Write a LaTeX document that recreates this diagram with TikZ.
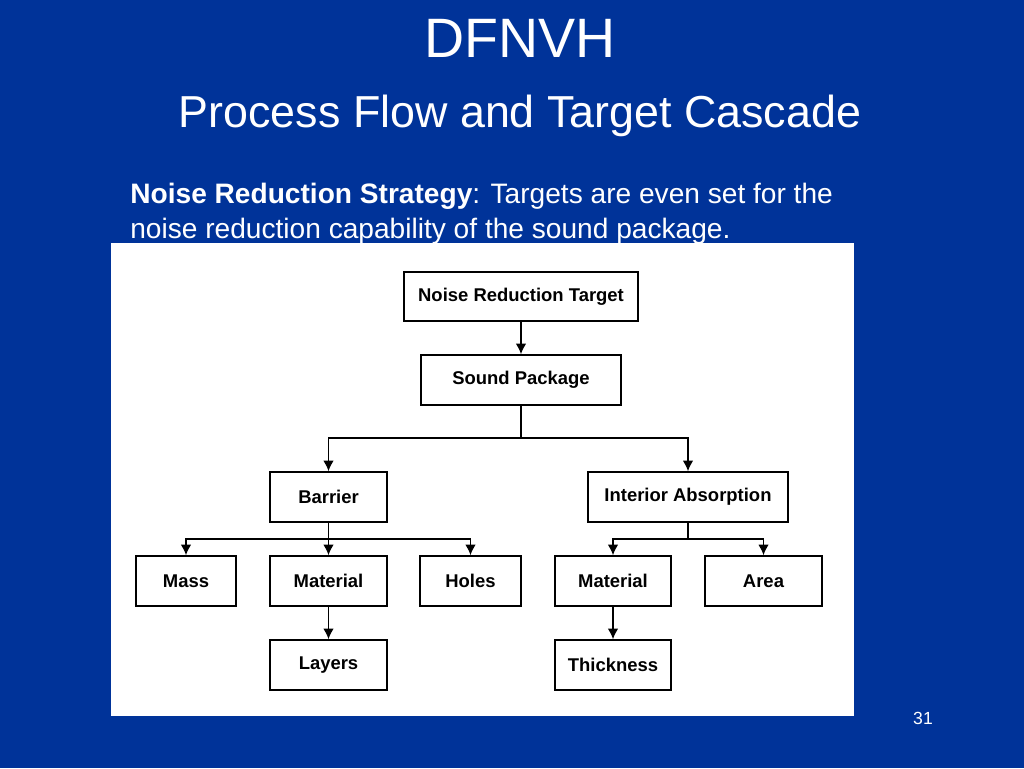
\documentclass[tikz,border=0pt]{standalone}
\usepackage{fontspec}
\setmainfont{Liberation Sans}
\usepackage{tikz}
\usetikzlibrary{shapes,arrows.meta,positioning,calc}
\definecolor{slideblue}{RGB}{0,51,153}

\begin{document}
\begin{tikzpicture}[x=0.02cm, y=-0.02cm,
    box/.style={rectangle, draw=black, line width=0.9pt, fill=white, minimum height=1cm, inner sep=0pt, font=\fontsize{10.5}{12}\selectfont\bfseries},
    link/.style={draw=black, line width=0.9pt},
    arr/.style={link, -{Latex[length=6pt, width=6pt]}}]
    % slide background
    \fill[slideblue] (0,0) rectangle (1024,768);
    \useasboundingbox (0,0) rectangle (1024,768);
    \fill[white] (111,243) rectangle (854,716);

    % titles
    \node[text=white, font=\fontsize{31.6}{36}\selectfont] (title) at (520,38) {DFNVH};
    \node[text=white, font=\fontsize{25.5}{30}\selectfont] (subtitle) at (520,116) {Process Flow and Target Cascade};
    \node[text=white, anchor=north west, align=left, inner sep=0pt, font=\fontsize{16}{20}\selectfont] (strategy) at (130,183) {
        \textbf{Noise Reduction Strategy}: Targets are even set for the\\
        noise reduction capability of the sound package.
    };
    \node[text=white, font=\fontsize{10}{12}\selectfont] (pagenum) at (923,718) {31};

    % cascade
    \node[box, minimum width=4.68cm, minimum height=0.98cm] (target) at (521,296.5) {Noise Reduction Target};
    \node[box, minimum width=4cm] (package) at (521,380) {Sound Package};
    \node[box, minimum width=2.34cm] (barrier) at (328.5,497) {Barrier};
    \node[box, minimum width=4cm] (interior) at (688,497) {Interior Absorption};
    \node[box, minimum width=2cm] (mass) at (186,581) {Mass};
    \node[box, minimum width=2.34cm] (bmaterial) at (328.5,581) {Material};
    \node[box, minimum width=2.02cm] (holes) at (470.5,581) {Holes};
    \node[box, minimum width=2.32cm] (imaterial) at (613,581) {Material};
    \node[box, minimum width=2.34cm] (area) at (763.5,581) {Area};
    \node[box, minimum width=2.34cm] (layers) at (328.5,665) {Layers};
    \node[box, minimum width=2.32cm] (thickness) at (613,665) {Thickness};

    \coordinate (packagefork) at (521,438);
    \coordinate (barrierfork) at (328.5,539);
    \coordinate (interiorfork) at (688,539);

    \draw[arr] (target) -- (package);
    \draw[link] (package) -- (packagefork);
    \draw[arr] (packagefork) -| (barrier.north);
    \draw[arr] (packagefork) -| (interior.north);
    \draw[link] (barrier) -- (barrierfork);
    \draw[arr] (barrierfork) -| (mass.north);
    \draw[arr] (barrierfork) -- (bmaterial);
    \draw[arr] (barrierfork) -| (holes.north);
    \draw[link] (interior) -- (interiorfork);
    \draw[arr] (interiorfork) -| (imaterial.north);
    \draw[arr] (interiorfork) -| (area.north);
    \draw[arr] (bmaterial) -- (layers);
    \draw[arr] (imaterial) -- (thickness);
\end{tikzpicture}
\end{document}
